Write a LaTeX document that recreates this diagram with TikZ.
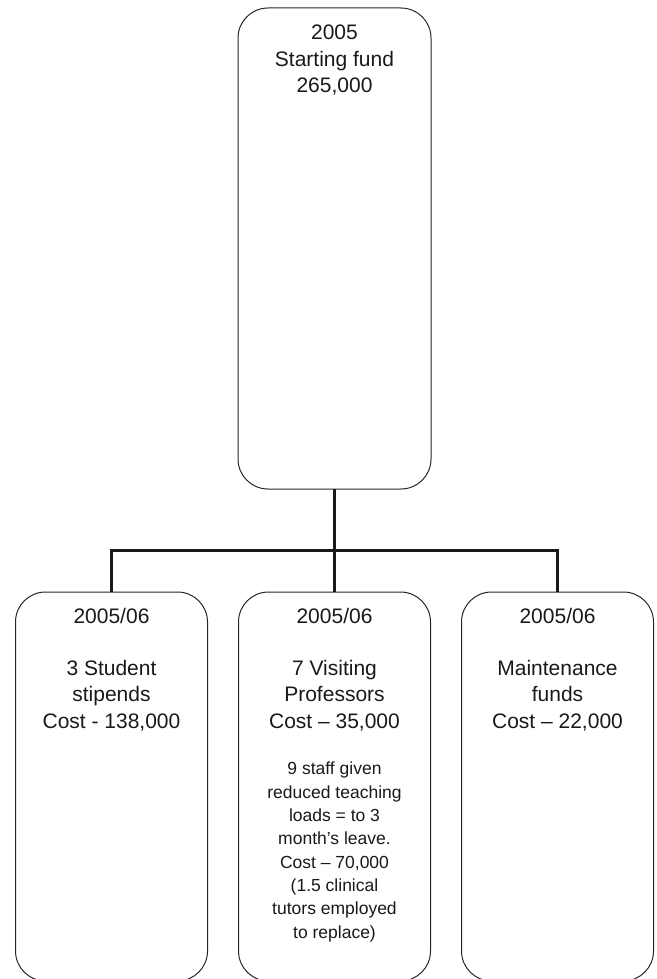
\documentclass[tikz,border=0pt]{standalone}
\usepackage{fontspec}
\setmainfont{Liberation Sans}
\usepackage{tikz}
\usetikzlibrary{positioning, calc}

\begin{document}
\begin{tikzpicture}[
    x=1pt, y=-1pt,
    node distance=31pt,
    fundbox/.style={rectangle, draw=black!85, line width=1pt, rounded corners=30pt, minimum width=192pt, inner sep=0pt, outer sep=0pt},
    boxtext/.style={align=center, text=black!90, font=\fontsize{21}{26.3}\selectfont, inner sep=0pt, anchor=base},
    notetext/.style={align=center, text=black!90, font=\fontsize{17.5}{23.3}\selectfont, inner sep=0pt, anchor=base},
    link/.style={line width=3pt, draw=black!90}
]
\useasboundingbox (0,0) rectangle (656,979);

% STARTING FUND (base anchor = last line)
\node[fundbox, minimum width=193pt, minimum height=481pt, anchor=north] (start) at (334.5,8) {};
\node[boxtext] (starttext) at ([yshift=-84.6pt]start.north) {2005\\Starting fund\\265,000};

% SPENDING 2005/06
\node[fundbox, minimum height=389pt, below=103pt of start] (visit) {};
\node[fundbox, minimum height=389pt, left=of visit] (stipend) {};
\node[fundbox, minimum height=389pt, right=of visit] (maint) {};

\node[boxtext] (stipendtext) at ([yshift=-136.2pt]stipend.north) {2005/06\\[26.3pt]3 Student\\stipends\\Cost - 138,000};
\node[boxtext] (visittext) at ([yshift=-136.2pt]visit.north) {2005/06\\[26.3pt]7 Visiting\\Professors\\Cost – 35,000};
\node[notetext] (visitnote) at ([yshift=-346pt]visit.north) {9 staff given\\reduced teaching\\loads = to 3\\month’s leave.\\Cost – 70,000\\(1.5 clinical\\tutors employed\\to replace)};
\node[boxtext] (mainttext) at ([yshift=-136.2pt]maint.north) {2005/06\\[26.3pt]Maintenance\\funds\\Cost – 22,000};

% Connections
\coordinate (branch) at ($(start.south)!0.6!(visit.north)$);
\draw[link] (start.south) -- (visit.north);
\draw[link] (stipend.north) |- (branch) -| (maint.north);

\end{tikzpicture}
\end{document}
